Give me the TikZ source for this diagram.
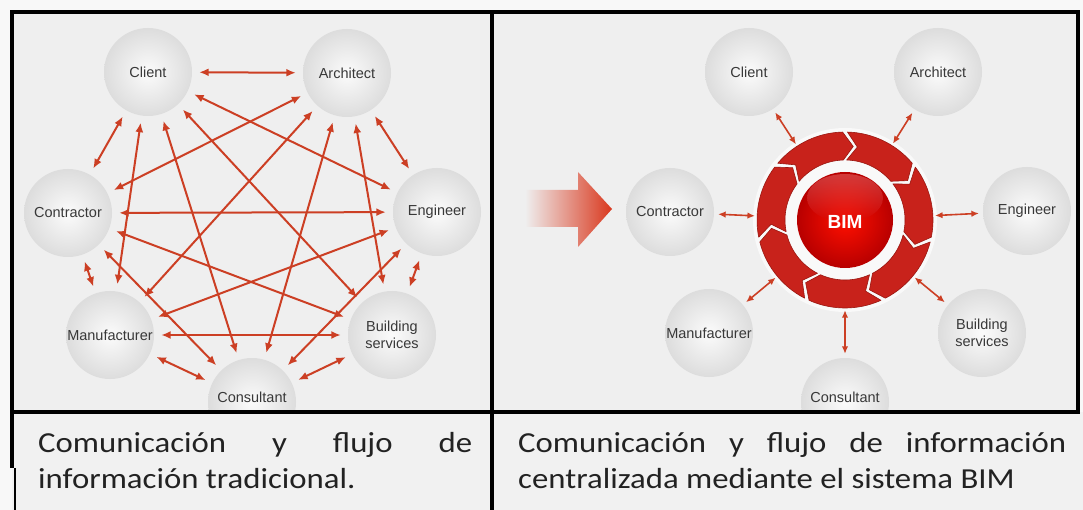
\documentclass[tikz,border=0pt]{standalone}
\usepackage{fontspec}
\setmainfont[FakeStretch=1.13]{Carlito}
\setsansfont{Liberation Sans}
\usetikzlibrary{arrows.meta}
\definecolor{pagebg}{HTML}{F8F8F8}
\definecolor{panelbg}{HTML}{EFEFEF}
\definecolor{capbg}{HTML}{F1F1F1}
\definecolor{arr}{HTML}{CC3F24}
\definecolor{segred}{HTML}{C8221B}
\definecolor{segdark}{HTML}{9A1711}
\definecolor{ctext}{HTML}{383838}
\definecolor{captext}{HTML}{222222}
\definecolor{bigred}{HTML}{D9381E}
\begin{document}
\begin{tikzpicture}[x=1pt,y=-1pt,
  ball/.style={circle, minimum size=88pt, inner sep=0pt, inner color=gray!3, outer color=gray!27,
    font=\sffamily\fontsize{14.5}{17}\selectfont, text=ctext, align=center},
  link/.style={arr, line width=2pt, {Latex[length=9.5pt,width=8pt]}-{Latex[length=9.5pt,width=8pt]},
    shorten <=7pt, shorten >=7pt},
  slink/.style={arr, line width=1.6pt, {Latex[length=7.5pt,width=6.5pt]}-{Latex[length=7.5pt,width=6.5pt]},
    shorten <=4pt, shorten >=2pt},
  frame/.style={black, line width=3.5pt},
  captxt/.style={anchor=base west, inner sep=0pt, text=captext}
]
\useasboundingbox (0,0) rectangle (1083,510);
\fill[pagebg] (0,0) rectangle (1083,510);
\fill[panelbg] (12,12) rectangle (1078,412);
\fill[capbg] (12,412) rectangle (1083,510);

\begin{scope}
\clip (12,12) rectangle (1078,412);
% ---------------- left panel ----------------
\node[ball] (Lcli) at (148,72) {Client};
\node[ball] (Larc) at (347,73) {Architect};
\node[ball] (Lcon) at (68,213) {Contractor};
\node[ball] (Leng) at (437,212) {Engineer};
\node[ball] (Lman) at (110,335) {Manufacturer};
\node[ball] (Lbui) at (392,335) {Building\\services};
\node[ball, label={[yshift=5pt, font=\sffamily\fontsize{14.5}{17}\selectfont, text=ctext]center:Consultant}] (Lcns) at (252,402) {};
\foreach \a/\b in {Lcli/Larc, Lcli/Lcon, Lcli/Leng, Lcli/Lman, Lcli/Lbui, Lcli/Lcns,
  Larc/Lcon, Larc/Leng, Larc/Lman, Larc/Lbui, Larc/Lcns,
  Lcon/Leng, Lcon/Lman, Lcon/Lbui, Lcon/Lcns,
  Leng/Lman, Leng/Lbui, Leng/Lcns, Lman/Lbui, Lman/Lcns, Lbui/Lcns}
  \draw[link] (\a) -- (\b);

% ---------------- right panel ----------------
\shade[left color=panelbg, middle color=bigred!40!panelbg, right color=bigred]
  (525,190) -- (578,190) -- (578,172) -- (612,209) -- (578,247) -- (578,227) -- (525,227) -- cycle;
\node[ball] (Rcli) at (749,72) {Client};
\node[ball] (Rarc) at (938,72) {Architect};
\node[ball] (Rcon) at (670,212) {Contractor};
\node[ball] (Reng) at (1027,211) {Engineer};
\node[ball] (Rman) at (709,333) {Manufacturer};
\node[ball] (Rbui) at (982,333) {Building\\services};
\node[ball, label={[yshift=5pt, font=\sffamily\fontsize{14.5}{17}\selectfont, text=ctext]center:Consultant}] (Rcns) at (845,402) {};

\node[circle, minimum size=176pt, inner sep=0pt] (ring) at (845,220) {};
\fill[white!60!panelbg] (845,220) circle[radius=92pt];
\foreach \k in {0,...,6}{
  \pgfmathsetmacro\aa{270+\k*360/7+1.6}
  \pgfmathsetmacro\ab{270+(\k+1)*360/7-1.6}
  \pgfmathsetmacro\pa{\aa+8}
  \pgfmathsetmacro\pb{\ab+8}
  \path[fill=segred, draw=segdark, line width=0.6pt, line join=round]
    plot[domain=\aa:\ab, samples=16] ({845+88*cos(\x)},{220+88*sin(\x)})
    -- ({845+74*cos(\pb)},{220+74*sin(\pb)})
    -- plot[domain=\ab:\aa, samples=16] ({845+60*cos(\x)},{220+60*sin(\x)})
    -- ({845+74*cos(\pa)},{220+74*sin(\pa)}) -- cycle;
}
\shade[inner color=red!88!orange, outer color=red!72!black] (845,220) circle[radius=48pt];
\shade[top color=white!65!red, bottom color=red!80!black, opacity=0.35] (845,198) ellipse[x radius=38pt, y radius=24pt];
\node[font=\sffamily\bfseries\fontsize{19}{22}\selectfont, text=white] (bim) at (845,222) {BIM};
\foreach \a in {Rcli, Rarc, Rcon, Reng, Rman, Rbui, Rcns}
  \draw[slink] (\a) -- (ring);
\end{scope}

% ---------------- frame ----------------
\draw[frame] (12,12) rectangle (1078,412);
\draw[frame] (492,12) -- (492,510);
\draw[frame] (12,412) -- (12,468);
\draw[black, line width=2pt] (15,468) -- (15,510);

% ---------------- captions ----------------
\node[captxt] (capL) at (38,452) {\parbox[t]{434pt}{\fontsize{29}{36}\selectfont\tolerance=10000\hyphenpenalty=10000\exhyphenpenalty=10000
Comunicación y flujo de\linebreak información tradicional.}};
\node[captxt] (capR) at (518,452) {\parbox[t]{548pt}{\fontsize{29}{36}\selectfont\tolerance=10000\hyphenpenalty=10000\exhyphenpenalty=10000
Comunicación y flujo de información\linebreak centralizada mediante el sistema BIM}};
\end{tikzpicture}
\end{document}
